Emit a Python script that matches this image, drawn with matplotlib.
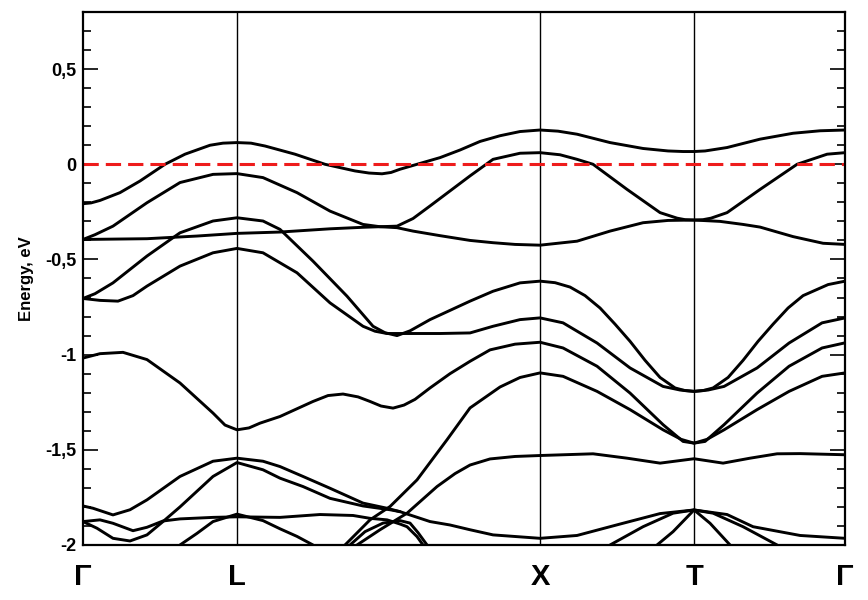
import matplotlib
matplotlib.use("Agg")
import matplotlib.pyplot as plt
import numpy as np

plt.rcParams['font.family'] = ['Liberation Sans', 'DejaVu Sans']

# k-path distance (arbitrary units) and energies in eV
k_sym = [0, 154, 457, 611, 762]
k_labels = ["Γ", "L", "X", "T", "Γ"]

kA = [0, 8, 17, 37, 57, 82, 102, 127, 140, 154, 168, 182, 212, 242, 272, 286, 299, 308, 317, 334, 357, 377,
      397, 417, 437, 457, 475, 494, 527, 560, 585, 600, 611, 622, 644, 677, 710, 737, 762]
eA = [-0.207, -0.203, -0.19, -0.149, -0.088, 0.0, 0.053, 0.10, 0.111, 0.114, 0.111, 0.096, 0.053, 0.0,
      -0.035, -0.046, -0.05, -0.043, -0.026, 0.0, 0.035, 0.075, 0.12, 0.15, 0.172, 0.18, 0.174, 0.158, 0.114,
      0.083, 0.07, 0.067, 0.067, 0.07, 0.088, 0.132, 0.163, 0.176, 0.18]

kB = [0, 12, 30, 64, 97, 130, 154, 180, 214, 247, 280, 297, 314, 330, 347, 367, 387, 410, 437, 457,
      477, 494, 510, 544, 577, 594, 602, 611, 620, 628, 644, 677, 714, 744, 762]
eB = [-0.395, -0.37, -0.325, -0.202, -0.096, -0.053, -0.049, -0.07, -0.149, -0.246, -0.316, -0.328, -0.325,
      -0.285, -0.219, -0.14, -0.061, 0.026, 0.058, 0.061, 0.05, 0.026, 0.0, -0.132, -0.254, -0.283, -0.291,
      -0.293, -0.291, -0.283, -0.254, -0.132, 0.0, 0.053, 0.061]

kC = [0, 64, 114, 154, 197, 247, 280, 297, 314, 330, 357, 387, 410, 432, 457, 494, 527, 560, 585, 611, 637,
      660, 677, 710, 740, 762]
eC = [-0.395, -0.391, -0.377, -0.363, -0.356, -0.339, -0.331, -0.328, -0.333, -0.351, -0.375, -0.4, -0.412,
      -0.421, -0.425, -0.404, -0.351, -0.307, -0.295, -0.293, -0.3, -0.316, -0.33, -0.38, -0.415, -0.421]

kD = [0, 12, 30, 64, 97, 130, 154, 180, 197, 230, 264, 290, 302, 314, 327, 347, 387, 410, 437, 457,
      472, 487, 502, 517, 532, 547, 562, 577, 592, 602, 611,
      620, 630, 645, 660, 675, 690, 705, 720, 745, 762]
eD = [-0.705, -0.68, -0.623, -0.482, -0.36, -0.298, -0.281, -0.298, -0.342, -0.509, -0.693, -0.851, -0.885,
      -0.9, -0.875, -0.816, -0.719, -0.667, -0.623, -0.614,
      -0.622, -0.645, -0.69, -0.755, -0.84, -0.93, -1.03, -1.12, -1.175, -1.189, -1.193,
      -1.189, -1.175, -1.12, -1.03, -0.93, -0.84, -0.755, -0.69, -0.632, -0.614]

kE = [0, 17, 35, 50, 64, 97, 130, 154, 180, 214, 247, 280, 292, 304, 327, 357, 387, 410, 437, 457,
      480, 514, 547, 580, 597, 611, 625, 641, 674, 706, 739, 762]
eE = [-0.705, -0.715, -0.719, -0.69, -0.64, -0.535, -0.465, -0.442, -0.465, -0.57, -0.728, -0.851, -0.877,
      -0.889, -0.889, -0.889, -0.886, -0.851, -0.816, -0.807,
      -0.833, -0.939, -1.07, -1.167, -1.186, -1.193, -1.186, -1.167, -1.07, -0.939, -0.833, -0.807]

kF = [0, 17, 40, 64, 97, 130, 142, 154, 166, 177, 197, 230, 245, 260, 275, 287, 298, 310, 321, 332, 347, 367,
      387, 407, 432, 457,
      480, 514, 547, 580, 600, 611, 622, 641, 674, 706, 739, 762]
eF = [-1.018, -0.995, -0.988, -1.026, -1.149, -1.307, -1.37, -1.395, -1.385, -1.36, -1.325, -1.246, -1.215,
      -1.207, -1.222, -1.246, -1.27, -1.281, -1.265, -1.235, -1.175, -1.1, -1.035, -0.975, -0.945, -0.935,
      -0.965, -1.061, -1.202, -1.368, -1.456, -1.465, -1.456, -1.368, -1.202, -1.061, -0.965, -0.938]

kS1 = [262, 287, 307, 334, 364, 387, 417, 437, 457, 480, 514, 547, 580, 598, 611, 624, 641, 674, 706, 739, 762]
eS1 = [-2.0, -1.868, -1.798, -1.658, -1.447, -1.28, -1.17, -1.12, -1.096, -1.114, -1.193, -1.289, -1.395,
       -1.445, -1.465, -1.445, -1.395, -1.289, -1.193, -1.114, -1.096]

kS2 = [274, 297, 324, 354, 372, 387, 407, 432, 457, 510, 544, 577, 611, 640, 667, 694, 717, 762]
eS2 = [-2.0, -1.92, -1.833, -1.693, -1.625, -1.58, -1.548, -1.535, -1.53, -1.521, -1.544, -1.57, -1.547, -1.57,
       -1.544, -1.521, -1.52, -1.526]

kG = [0, 10, 30, 47, 64, 97, 130, 154, 180, 197, 220, 247, 280, 304, 317, 347, 367, 387, 410, 457,
      494, 537, 577, 611, 644, 670, 717, 762]
eG = [-1.795, -1.807, -1.842, -1.815, -1.763, -1.64, -1.56, -1.544, -1.56, -1.588, -1.64, -1.702, -1.78,
      -1.807, -1.825, -1.877, -1.895, -1.92, -1.947, -1.965,
      -1.95, -1.89, -1.835, -1.816, -1.84, -1.904, -1.95, -1.965]

kH = [0, 14, 30, 47, 64, 80, 97, 130, 154, 180, 197, 220, 247, 280, 307, 317]
eH = [-1.877, -1.912, -1.965, -1.979, -1.947, -1.877, -1.80, -1.64, -1.567, -1.605, -1.649, -1.693, -1.755,
      -1.795, -1.815, -1.825]

kI = [0, 17, 30, 50, 64, 80, 97, 130, 154, 197, 237, 270, 287, 304, 317, 324, 334, 340]
eI = [-1.877, -1.868, -1.886, -1.925, -1.907, -1.874, -1.863, -1.855, -1.852, -1.855, -1.84, -1.845, -1.86,
      -1.868, -1.89, -1.904, -1.956, -2.0]

kJ = [97, 114, 130, 154, 180, 197, 214, 230]
eJ = [-2.0, -1.939, -1.877, -1.838, -1.872, -1.915, -1.955, -2.0]

kK = [267, 282, 300, 317, 327, 335, 344]
eK = [-2.0, -1.93, -1.885, -1.872, -1.885, -1.935, -2.0]

kM = [527, 560, 590, 611, 630, 660, 694]
eM = [-2.0, -1.904, -1.833, -1.816, -1.833, -1.904, -2.0]

kN = [574, 590, 611, 627, 647]
eN = [-2.0, -1.93, -1.816, -1.886, -2.0]

bands = [(kA, eA), (kB, eB), (kC, eC), (kD, eD), (kE, eE), (kF, eF), (kS1, eS1), (kS2, eS2),
         (kG, eG), (kH, eH), (kI, eI), (kJ, eJ), (kK, eK), (kM, eM), (kN, eN)]

y_ticks = [-2, -1.5, -1, -0.5, 0, 0.5]
y_labels = ["-2", "-1,5", "-1", "-0,5", "0", "0,5"]

fig = plt.figure(figsize=(8.68, 6.0), dpi=100)
ax = fig.add_axes([0.0956, 0.0917, 0.878, 0.8883])

for k, e in bands:
    ax.plot(k, e, color="black", lw=2.1, solid_joinstyle="round", solid_capstyle="round")

for ks in k_sym[1:-1]:
    ax.axvline(ks, color="black", lw=1.0)

ax.axhline(0, color="#ee1c1c", lw=2.2, dashes=(5, 2.3))

ax.set_xlim(k_sym[0], k_sym[-1])
ax.set_ylim(-2, 0.8)

ax.set_xticks(k_sym)
ax.set_xticklabels(k_labels, fontsize=21, fontweight="bold")
ax.tick_params(axis="x", length=0, pad=13)

ax.set_yticks(y_ticks)
ax.set_yticklabels(y_labels, fontsize=13, fontweight="bold")
ax.set_yticks(np.arange(-2, 0.81, 0.1), minor=True)
ax.tick_params(axis="y", which="major", direction="in", length=11, width=1.2, left=True, right=True, pad=5)
ax.tick_params(axis="y", which="minor", direction="in", length=6, width=1.2, left=True, right=True)

ax.set_ylabel("Energy, eV", fontsize=12, fontweight="bold", labelpad=8)

for s in ax.spines.values():
    s.set_linewidth(1.6)

fig.savefig("out.png", dpi=100)
